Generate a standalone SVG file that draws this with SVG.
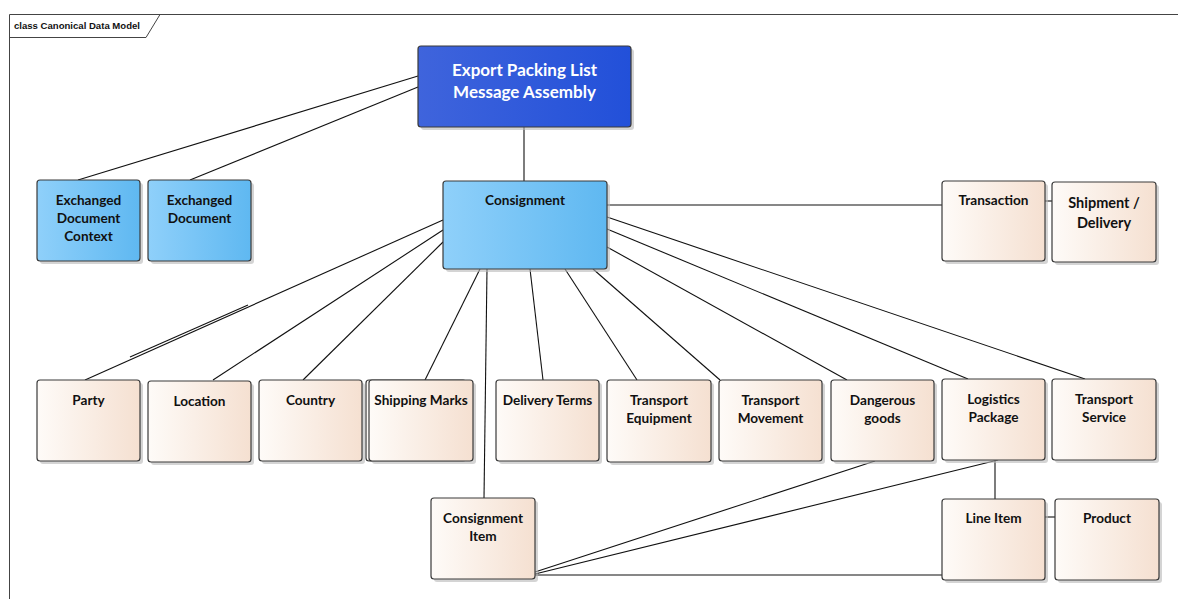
<svg xmlns="http://www.w3.org/2000/svg" width="1178" height="599" viewBox="0 0 1178 599">
<defs>
<linearGradient id="gBeige" x1="0" y1="0" x2="1" y2="0"><stop offset="0" stop-color="#fefbf8"/><stop offset="1" stop-color="#f5e0d1"/></linearGradient>
<linearGradient id="gLight" x1="0" y1="0" x2="1" y2="0"><stop offset="0" stop-color="#8fd0fa"/><stop offset="1" stop-color="#5fb8f1"/></linearGradient>
<linearGradient id="gDark" x1="0" y1="0" x2="1" y2="0"><stop offset="0" stop-color="#3f64dc"/><stop offset="1" stop-color="#2250d9"/></linearGradient>
</defs>
<style>
.box{stroke:#3a3a3a;stroke-width:1.2}
.beige{fill:url(#gBeige)}
.light{fill:url(#gLight)}
.dark{fill:url(#gDark)}
.sh{fill:#b8b8b8;opacity:0.6}
.t{font-family:Lato,"Liberation Sans",sans-serif;font-weight:bold;font-size:13.6px;fill:#111111;text-anchor:middle}
.tw{font-family:Lato,"Liberation Sans",sans-serif;font-weight:bold;font-size:17px;fill:#ffffff;text-anchor:middle}
.c{stroke:#111;stroke-width:1.1;fill:none}
.frame{stroke:#444;stroke-width:1;fill:none}
</style>
<rect x="0" y="0" width="1178" height="599" fill="#ffffff"/>
<g id="frame">
<path class="frame" d="M9.5,599 V14.5 H1178"/>
<path class="frame" d="M9.5,37.5 H146 L160,14.5"/>
<text x="14" y="29" style="font-family:'Liberation Sans',sans-serif;font-size:9px;font-weight:bold;fill:#111" textLength="126" lengthAdjust="spacingAndGlyphs">class Canonical Data Model</text>
</g>
<g id="connectors">
<line class="c" x1="418" y1="76" x2="78" y2="180"/>
<line class="c" x1="418" y1="87" x2="190" y2="180"/>
<line class="c" x1="524" y1="127" x2="524" y2="181"/>
<line class="c" x1="607" y1="205" x2="942" y2="205"/>
<line class="c" x1="1045" y1="201" x2="1052" y2="201"/>
<line class="c" x1="443" y1="220" x2="85" y2="380"/>
<line class="c" x1="130" y1="357" x2="248" y2="305"/>
<line class="c" x1="443" y1="230" x2="213" y2="380"/>
<line class="c" x1="443" y1="242" x2="303" y2="380"/>
<line class="c" x1="480" y1="269" x2="425" y2="380"/>
<line class="c" x1="487" y1="269" x2="484" y2="498"/>
<line class="c" x1="530" y1="269" x2="543" y2="380"/>
<line class="c" x1="565" y1="269" x2="637" y2="380"/>
<line class="c" x1="593" y1="269" x2="720" y2="380"/>
<line class="c" x1="607" y1="247" x2="847" y2="380"/>
<line class="c" x1="607" y1="229" x2="968" y2="379"/>
<line class="c" x1="607" y1="217" x2="1085" y2="379"/>
<line class="c" x1="875" y1="461" x2="535" y2="572"/>
<line class="c" x1="998" y1="460" x2="535" y2="574"/>
<line class="c" x1="995" y1="460" x2="995" y2="499"/>
<line class="c" x1="535" y1="575" x2="942" y2="575"/>
<line class="c" x1="1045" y1="517" x2="1055" y2="517"/>
</g>
<g id="export">
<rect class="sh" x="421" y="49" width="213" height="81" rx="3"/>
<rect class="box dark" x="418" y="46" width="213" height="81" rx="3"/>
<text class="tw" x="524.5" y="76">Export Packing List</text>
<text class="tw" x="524.5" y="98">Message Assembly</text>
</g>
<g id="edc">
<rect class="sh" x="40" y="183" width="103" height="81" rx="3"/>
<rect class="box light" x="37" y="180" width="103" height="81" rx="3"/>
<text class="t" x="88.5" y="205">Exchanged</text>
<text class="t" x="88.5" y="223">Document</text>
<text class="t" x="88.5" y="241">Context</text>
</g>
<g id="ed">
<rect class="sh" x="151" y="183" width="103" height="81" rx="3"/>
<rect class="box light" x="148" y="180" width="103" height="81" rx="3"/>
<text class="t" x="199.5" y="205">Exchanged</text>
<text class="t" x="199.5" y="223">Document</text>
</g>
<g id="consignment">
<rect class="sh" x="446" y="184" width="164" height="88" rx="3"/>
<rect class="box light" x="443" y="181" width="164" height="88" rx="3"/>
<text class="t" x="525" y="205">Consignment</text>
</g>
<g id="transaction">
<rect class="sh" x="945" y="184" width="103" height="80" rx="3"/>
<rect class="box beige" x="942" y="181" width="103" height="80" rx="3"/>
<text class="t" x="993.5" y="205">Transaction</text>
</g>
<g id="shipment">
<rect class="sh" x="1055" y="185" width="104" height="80" rx="3"/>
<rect class="box beige" x="1052" y="182" width="104" height="80" rx="3"/>
<text class="t" x="1104" y="208" style="font-size:14.5px">Shipment /</text>
<text class="t" x="1104" y="228" style="font-size:14.5px">Delivery</text>
</g>
<g id="party">
<rect class="sh" x="40" y="383" width="103" height="81" rx="3"/>
<rect class="box beige" x="37" y="380" width="103" height="81" rx="3"/>
<text class="t" x="88.5" y="405">Party</text>
</g>
<g id="location">
<rect class="sh" x="151" y="384" width="103" height="81" rx="3"/>
<rect class="box beige" x="148" y="381" width="103" height="81" rx="3"/>
<text class="t" x="199.5" y="406">Location</text>
</g>
<g id="country">
<rect class="sh" x="262" y="383" width="103" height="81" rx="3"/>
<rect class="box beige" x="259" y="380" width="103" height="81" rx="3"/>
<text class="t" x="310.5" y="405">Country</text>
</g>
<g id="hidden">
<rect class="box beige" x="366" y="380" width="100" height="81" rx="3"/>
</g>
<g id="shippingmarks">
<rect class="sh" x="372" y="383" width="104" height="81" rx="3"/>
<rect class="box beige" x="369" y="380" width="104" height="81" rx="3"/>
<text class="t" x="421" y="405">Shipping Marks</text>
</g>
<g id="deliveryterms">
<rect class="sh" x="499" y="383" width="103" height="81" rx="3"/>
<rect class="box beige" x="496" y="380" width="103" height="81" rx="3"/>
<text class="t" x="547.5" y="405">Delivery Terms</text>
</g>
<g id="transportequipment">
<rect class="sh" x="610" y="383" width="104" height="82" rx="3"/>
<rect class="box beige" x="607" y="380" width="104" height="82" rx="3"/>
<text class="t" x="659" y="405">Transport</text>
<text class="t" x="659" y="423">Equipment</text>
</g>
<g id="transportmovement">
<rect class="sh" x="722" y="383" width="103" height="81" rx="3"/>
<rect class="box beige" x="719" y="380" width="103" height="81" rx="3"/>
<text class="t" x="770.5" y="405">Transport</text>
<text class="t" x="770.5" y="423">Movement</text>
</g>
<g id="dangerousgoods">
<rect class="sh" x="834" y="383" width="103" height="81" rx="3"/>
<rect class="box beige" x="831" y="380" width="103" height="81" rx="3"/>
<text class="t" x="882.5" y="405">Dangerous</text>
<text class="t" x="882.5" y="423">goods</text>
</g>
<g id="logisticspackage">
<rect class="sh" x="945" y="382" width="103" height="81" rx="3"/>
<rect class="box beige" x="942" y="379" width="103" height="81" rx="3"/>
<text class="t" x="993.5" y="404">Logistics</text>
<text class="t" x="993.5" y="422">Package</text>
</g>
<g id="transportservice">
<rect class="sh" x="1055" y="382" width="104" height="81" rx="3"/>
<rect class="box beige" x="1052" y="379" width="104" height="81" rx="3"/>
<text class="t" x="1104" y="404">Transport</text>
<text class="t" x="1104" y="422">Service</text>
</g>
<g id="consignmentitem">
<rect class="sh" x="434" y="501" width="104" height="81" rx="3"/>
<rect class="box beige" x="431" y="498" width="104" height="81" rx="3"/>
<text class="t" x="483" y="523">Consignment</text>
<text class="t" x="483" y="541">Item</text>
</g>
<g id="lineitem">
<rect class="sh" x="945" y="502" width="103" height="81" rx="3"/>
<rect class="box beige" x="942" y="499" width="103" height="81" rx="3"/>
<text class="t" x="993.5" y="523">Line Item</text>
</g>
<g id="product">
<rect class="sh" x="1058" y="502" width="104" height="81" rx="3"/>
<rect class="box beige" x="1055" y="499" width="104" height="81" rx="3"/>
<text class="t" x="1107" y="523">Product</text>
</g>
</svg>
